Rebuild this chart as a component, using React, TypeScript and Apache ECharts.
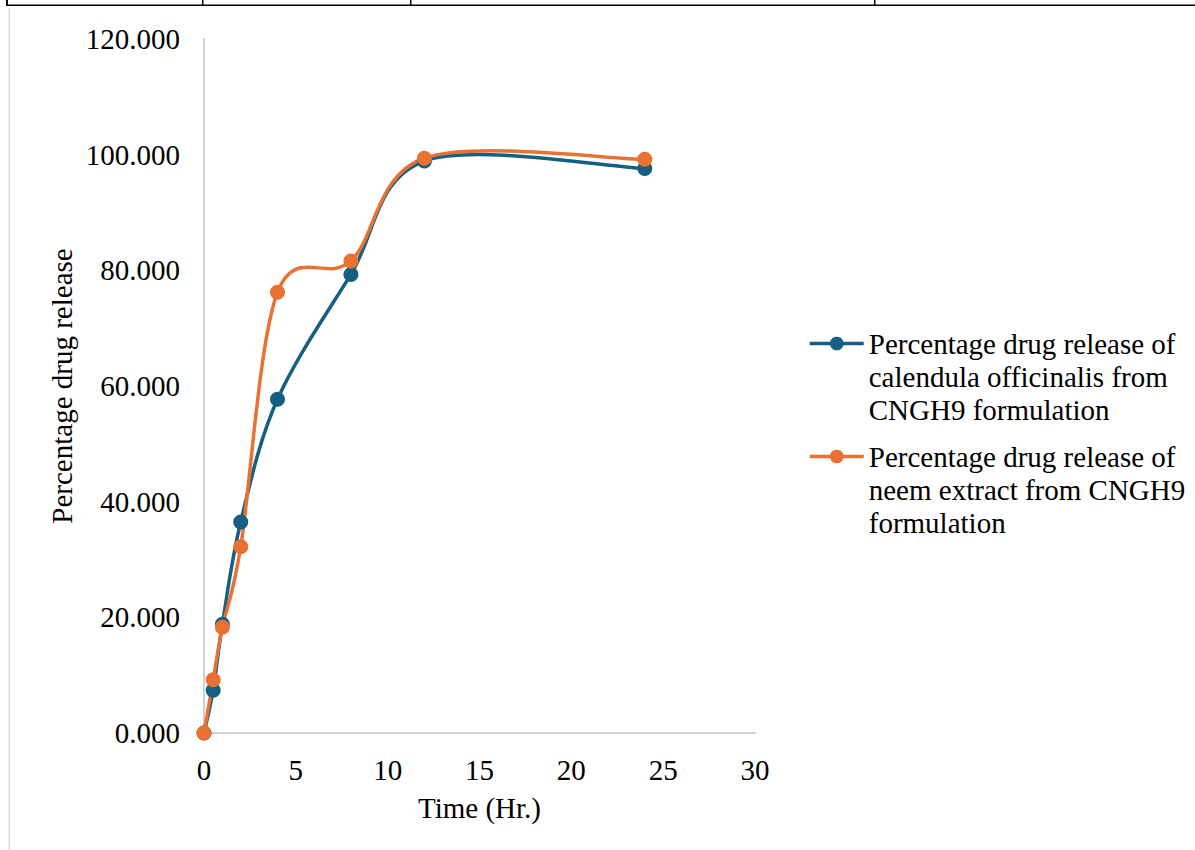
import React, { useEffect, useRef } from "react";
import * as echarts from "echarts";

const timeHours = [0, 0.5, 1, 2, 4, 8, 12, 24];
const calendulaRelease = [0, 7.4, 18.8, 36.5, 57.7, 79.3, 98.9, 97.6];
const neemRelease = [0, 9.2, 18.3, 32.2, 76.2, 81.6, 99.4, 99.2];
const seriesNames = [
  "Percentage drug release of calendula officinalis from CNGH9 formulation",
  "Percentage drug release of neem extract from CNGH9 formulation",
];
const legendLines = [
  ["Percentage drug release of", "calendula officinalis from", "CNGH9 formulation"],
  ["Percentage drug release of", "neem extract from CNGH9", "formulation"],
];
const xAxisTitle = "Time (Hr.)";
const yAxisTitle = "Percentage drug release";
const colors = ["#156082", "#E97132"];

const FONT = "Liberation Serif";

export default function App() {
  const ref = useRef<HTMLDivElement>(null);
  useEffect(() => {
    if (!ref.current) return;
    const chart = echarts.init(ref.current, null, { renderer: "svg" });
    const allValues = [calendulaRelease, neemRelease];
    const mk = (vals: number[]) => timeHours.map((t, i) => [t, vals[i]]);

    // Excel-like smoothed curve (Catmull-Rom, tension 1/6) drawn through the axes' scales
    const curveSeries = (k: number) => ({
      name: seriesNames[k] + " (curve)",
      type: "custom",
      silent: true,
      data: mk(allValues[k]),
      encode: { x: 0, y: 1 },
      renderItem: (params: any, api: any) => {
        const i = params.dataIndex;
        const vals = allValues[k];
        const n = vals.length;
        if (i >= n - 1) return null;
        const P = (j: number) => {
          const jj = Math.max(0, Math.min(n - 1, j));
          return api.coord([timeHours[jj], vals[jj]]);
        };
        const p0 = P(i - 1);
        const p1 = P(i);
        const p2 = P(i + 1);
        const p3 = P(i + 2);
        return {
          type: "bezierCurve",
          shape: {
            x1: p1[0],
            y1: p1[1],
            x2: p2[0],
            y2: p2[1],
            cpx1: p1[0] + (p2[0] - p0[0]) / 6,
            cpy1: p1[1] + (p2[1] - p0[1]) / 6,
            cpx2: p2[0] - (p3[0] - p1[0]) / 6,
            cpy2: p2[1] - (p3[1] - p1[1]) / 6,
          },
          style: { stroke: colors[k], lineWidth: 3.5, fill: null, lineCap: "round" },
        };
      },
    });

    const markerSeries = (k: number) => ({
      name: seriesNames[k],
      type: "line",
      data: mk(allValues[k]),
      symbol: "circle",
      symbolSize: 15,
      showSymbol: true,
      lineStyle: { color: colors[k], width: 3.5, opacity: 0 },
      itemStyle: { color: colors[k] },
    });

    const legendFor = (i: number, top: number) => ({
      show: true,
      data: [seriesNames[i]],
      orient: "vertical",
      left: 808,
      top,
      padding: 0,
      itemWidth: 54,
      itemHeight: 17,
      itemGap: 0,
      lineStyle: { opacity: 1, width: 3.5 },
      formatter: (name: string) =>
        ["", ""].concat(legendLines[seriesNames.indexOf(name)]).join("\n"),
      textStyle: {
        fontFamily: FONT,
        fontSize: 29,
        color: "#000",
        lineHeight: 33,
      },
    });

    chart.setOption({
      animation: false,
      backgroundColor: "#fff",
      textStyle: { fontFamily: FONT },
      grid: { left: 204, right: 440, top: 39, bottom: 117, containLabel: false },
      legend: [legendFor(0, 261), legendFor(1, 374)],
      xAxis: {
        type: "value",
        min: 0,
        max: 30,
        interval: 5,
        name: xAxisTitle,
        nameLocation: "middle",
        nameGap: 60,
        nameTextStyle: { fontFamily: FONT, fontSize: 29, color: "#000" },
        axisLine: { show: true, onZero: false, lineStyle: { color: "#d0d0d0", width: 2 } },
        axisTick: { show: false },
        splitLine: { show: false },
        axisLabel: { fontFamily: FONT, fontSize: 29, color: "#000", margin: 22 },
      },
      yAxis: {
        type: "value",
        min: 0,
        max: 120,
        interval: 20,
        name: yAxisTitle,
        nameLocation: "middle",
        nameGap: 128,
        nameTextStyle: { fontFamily: FONT, fontSize: 29, color: "#000" },
        axisLine: { show: true, lineStyle: { color: "#d0d0d0", width: 2 } },
        axisTick: { show: false },
        splitLine: { show: false },
        axisLabel: {
          fontFamily: FONT,
          fontSize: 29,
          color: "#000",
          margin: 24,
          formatter: (v: number) => v.toFixed(3),
        },
      },
      series: [curveSeries(0), markerSeries(0), curveSeries(1), markerSeries(1)],
      graphic: [
        { type: "rect", left: 6, top: 0, shape: { width: 2, height: 6 }, style: { fill: "#000" } },
        { type: "rect", left: 6, top: 4.5, shape: { width: 1189, height: 1.5 }, style: { fill: "#000" } },
        { type: "rect", left: 202, top: 0, shape: { width: 1.5, height: 5 }, style: { fill: "#000" } },
        { type: "rect", left: 410, top: 0, shape: { width: 1.5, height: 5 }, style: { fill: "#000" } },
        { type: "rect", left: 874, top: 0, shape: { width: 1.5, height: 5 }, style: { fill: "#000" } },
        { type: "rect", left: 8.5, top: 8, shape: { width: 1.5, height: 842 }, style: { fill: "#dcdcdc" } },
      ],
    });
    return () => chart.dispose();
  }, []);
  return (
    <div
      ref={ref}
      style={{ position: "fixed", left: 0, top: 0, width: 1195, height: 850, background: "#fff" }}
    />
  );
}
